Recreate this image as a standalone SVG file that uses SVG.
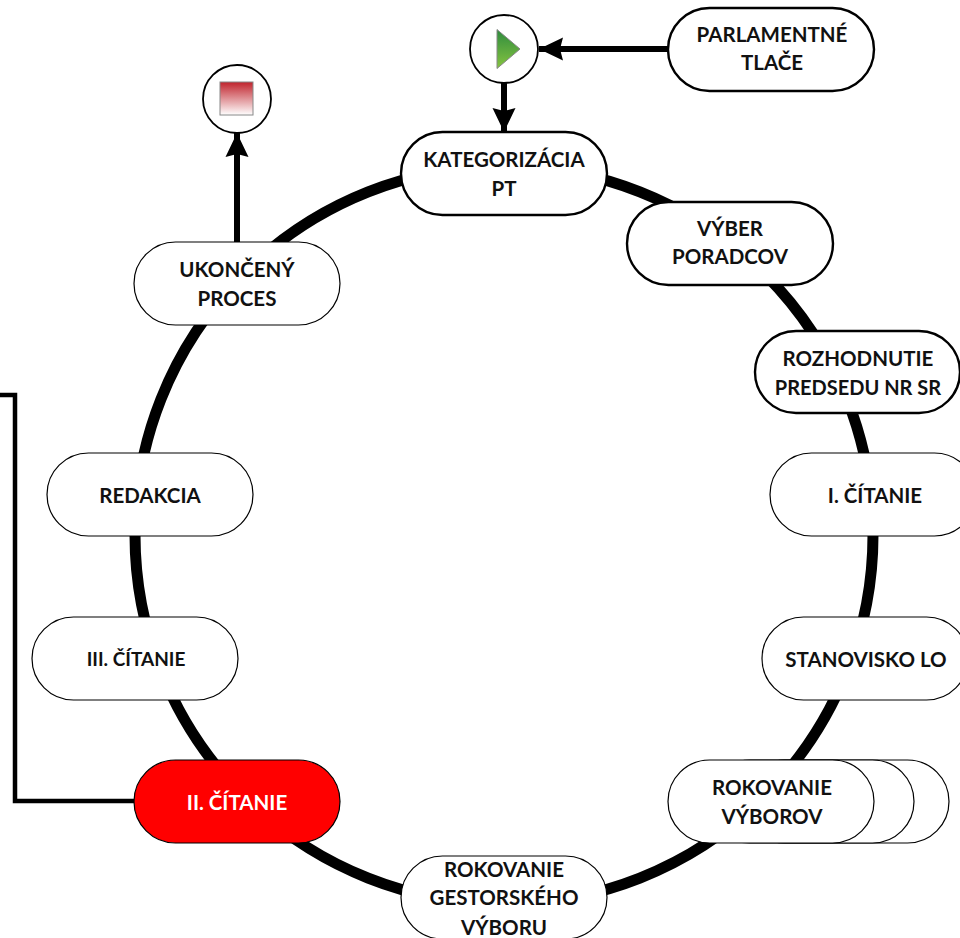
<svg xmlns="http://www.w3.org/2000/svg" width="960" height="938" viewBox="0 0 960 938">
<style>
.p{fill:#fff;stroke:#000;stroke-width:1.2}
.b{stroke-width:2.4}
.c{fill:#fff;stroke:#000;stroke-width:1.8}
.w{fill:none;stroke:#000;stroke-width:6}
.t{fill:none;stroke:#000;stroke-width:4.5}
text{font-family:Lato,Carlito,"Open Sans",sans-serif;font-weight:700;font-size:20.500px;text-anchor:middle;fill:#111}
</style>
<defs>
<linearGradient id="g" x1="0" y1="0" x2="0" y2="1"><stop offset="0" stop-color="#2e8b3e"/><stop offset="1" stop-color="#86c440"/></linearGradient>
<linearGradient id="r" x1="0" y1="0" x2="0" y2="1"><stop offset="0" stop-color="#c0232c"/><stop offset="1" stop-color="#fff"/></linearGradient>
<marker id="a" markerUnits="userSpaceOnUse" markerWidth="26" markerHeight="28" refX="24" refY="14" orient="auto"><path d="M0 2.500 L24 14 L0 25.500 L3 14 Z" fill="#000"/></marker>
</defs>
<g id="connectors">
<circle cx="504" cy="535" r="369" fill="none" stroke="#000" stroke-width="11"/>
<path class="w" d="M668 49H539" marker-end="url(#a)"/>
<path class="w" d="M504 83V132" marker-end="url(#a)"/>
<path class="w" d="M237 242V133" marker-end="url(#a)"/>
<path class="t" d="M134 801H15V395H0"/>
</g>
<g id="start"><circle class="c" cx="504" cy="49" r="34"/><path d="M497 29.500 L520 49 L497 68.500 Z" fill="url(#g)" stroke="#888"/></g>
<g id="end"><circle class="c" cx="237" cy="99" r="34"/><rect x="220" y="82" width="33" height="33" fill="url(#r)" stroke="#888"/></g>
<g id="parlamentne"><rect class="p b" x="668" y="8" width="206" height="83" rx="41.500"/><text x="772" y="42">PARLAMENTNÉ</text><text x="772" y="70">TLAČE</text></g>
<g id="kategorizacia"><rect class="p b" x="401" y="132" width="206" height="83" rx="41.500"/><text x="504" y="167">KATEGORIZÁCIA</text><text x="504" y="196">PT</text></g>
<g id="vyber"><rect class="p b" x="627" y="202" width="206" height="83" rx="41.500"/><text x="730" y="236">VÝBER</text><text x="730" y="264">PORADCOV</text></g>
<g id="rozhodnutie"><rect class="p b" x="755" y="331" width="205" height="82" rx="41"/><text x="858" y="366">ROZHODNUTIE</text><text x="858" y="395" style="font-size:20px">PREDSEDU NR SR</text></g>
<g id="citanie1"><rect class="p" x="770" y="453" width="206" height="83" rx="41.500"/><text x="875" y="503">I. ČÍTANIE</text></g>
<g id="stanovisko"><rect class="p" x="762" y="617" width="206" height="83" rx="41.500"/><text x="866" y="667">STANOVISKO LO</text></g>
<g id="rokovanie-vyborov">
<rect class="p" x="743" y="760" width="206" height="83" rx="41.500"/>
<rect class="p" x="708" y="760" width="206" height="83" rx="41.500"/>
<rect class="p" x="668" y="760" width="206" height="83" rx="41.500"/>
<text x="772" y="795">ROKOVANIE</text><text x="772" y="824">VÝBOROV</text></g>
<g id="gestorsky"><rect class="p" x="401" y="856" width="206" height="83" rx="41.500"/><text x="504" y="877">ROKOVANIE</text><text x="504" y="905">GESTORSKÉHO</text><text x="504" y="935">VÝBORU</text></g>
<g id="citanie2"><rect class="p" x="134" y="760" width="206" height="83" rx="41.500" style="fill:#f00"/><text x="237" y="810" style="fill:#fff">II. ČÍTANIE</text></g>
<g id="citanie3"><rect class="p" x="32" y="617" width="206" height="83" rx="41.500"/><text x="136" y="666" style="font-size:19px">III. ČÍTANIE</text></g>
<g id="redakcia"><rect class="p" x="47" y="453" width="206" height="83" rx="41.500"/><text x="150" y="503">REDAKCIA</text></g>
<g id="ukonceny"><rect class="p" x="134" y="242" width="206" height="83" rx="41.500"/><text x="237" y="277">UKONČENÝ</text><text x="237" y="306">PROCES</text></g>
</svg>
